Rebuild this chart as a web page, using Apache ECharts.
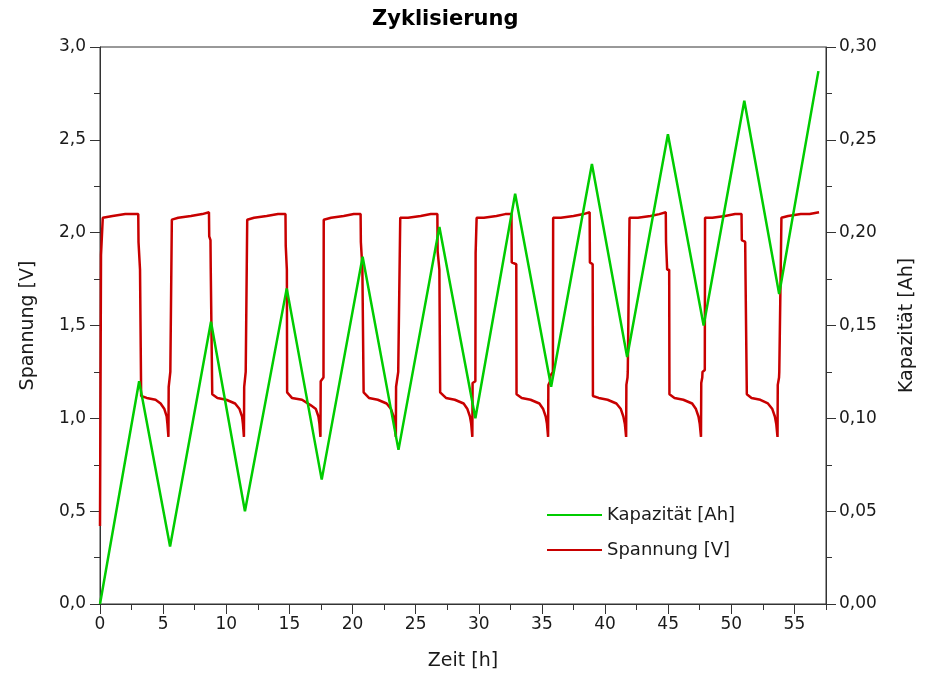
<!DOCTYPE html>
<html>
<head>
<meta charset="utf-8">
<script src="https://cdn.jsdelivr.net/npm/echarts@6/dist/echarts.min.js"></script>
<style>
  html, body { margin: 0; padding: 0; background: #fff; }
</style>
</head>
<body>
<div id="Zyklisierung" style="width: 925px;height:682px;"></div>
<script>
// Achsen-Ticks
var zeitTicks = [0, 5, 10, 15, 20, 25, 30, 35, 40, 45, 50, 55];
var zeitMinorTicks = [2.5, 7.5, 12.5, 17.5, 22.5, 27.5, 32.5, 37.5, 42.5, 47.5, 52.5, 57.5];
var spannungMinorTicks = [0.25, 0.75, 1.25, 1.75, 2.25, 2.75];
var kapazitaetMinorTicks = [0.025, 0.075, 0.125, 0.175, 0.225, 0.275];

// Spannung [V] ueber Zeit [h]
var spannungData = [
  [0, 0.42], [0.08, 1.88], [0.2, 1.89], [0.22, 2.08], [1.0, 2.09], [2.0, 2.10], [3.03, 2.10], [3.05, 1.95], [3.15, 1.94], [3.17, 1.80], [3.24, 1.80], [3.26, 1.12], [3.7, 1.11], [4.4, 1.10], [4.8, 1.08], [5.1, 1.05], [5.28, 1.01], [5.34, 0.97], [5.42, 0.90],
  [5.44, 1.17], [5.55, 1.18], [5.57, 1.25], [5.67, 1.26], [5.69, 2.07], [6.2, 2.08], [7.2, 2.09], [8.1, 2.10], [8.63, 2.11], [8.65, 1.98], [8.75, 1.96], [8.77, 1.81], [8.87, 1.80], [8.89, 1.13], [9.3, 1.11], [10.0, 1.10], [10.7, 1.08], [11.05, 1.05], [11.25, 1.01], [11.32, 0.97], [11.40, 0.90],
  [11.42, 1.17], [11.52, 1.18], [11.54, 1.25], [11.64, 1.26], [11.66, 2.07], [12.2, 2.08], [13.2, 2.09], [14.1, 2.10], [14.69, 2.10], [14.71, 1.93], [14.78, 1.92], [14.80, 1.80], [14.82, 1.14], [15.2, 1.11], [16.0, 1.10], [16.7, 1.07], [17.1, 1.05], [17.3, 1.01], [17.38, 0.97], [17.46, 0.90],
  [17.48, 1.20], [17.70, 1.22], [17.72, 2.07], [18.3, 2.08], [19.3, 2.09], [20.1, 2.10], [20.64, 2.10], [20.66, 1.95], [20.76, 1.94], [20.78, 1.81], [20.86, 1.80], [20.88, 1.14], [21.3, 1.11], [22.0, 1.10], [22.7, 1.08], [23.05, 1.05], [23.25, 1.01], [23.35, 0.97], [23.43, 0.90],
  [23.45, 1.17], [23.6, 1.18], [23.62, 1.25], [23.76, 1.26], [23.78, 2.08], [24.4, 2.08], [25.4, 2.09], [26.2, 2.10], [26.72, 2.10], [26.74, 1.90], [26.86, 1.89], [26.88, 1.80], [26.92, 1.80], [26.94, 1.14], [27.4, 1.11], [28.1, 1.10], [28.8, 1.08], [29.1, 1.05], [29.3, 1.01], [29.4, 0.97], [29.49, 0.90],
  [29.51, 1.19], [29.73, 1.20], [29.75, 1.89], [29.81, 1.90], [29.83, 2.08], [30.4, 2.08], [31.4, 2.09], [32.1, 2.10], [32.59, 2.10], [32.61, 1.84], [32.97, 1.83], [32.99, 1.13], [33.4, 1.11], [34.1, 1.10], [34.8, 1.08], [35.1, 1.05], [35.3, 1.01], [35.4, 0.97], [35.49, 0.90],
  [35.51, 1.18], [35.65, 1.20], [35.67, 1.23], [35.87, 1.25], [35.89, 2.08], [36.5, 2.08], [37.5, 2.09], [38.3, 2.10], [38.78, 2.11], [38.80, 1.84], [39.02, 1.83], [39.04, 1.12], [39.5, 1.11], [40.2, 1.10], [40.9, 1.08], [41.25, 1.05], [41.45, 1.01], [41.57, 0.97], [41.67, 0.90],
  [41.69, 1.18], [41.78, 1.22], [41.80, 1.25], [41.92, 1.26], [41.94, 2.08], [42.6, 2.08], [43.6, 2.09], [44.3, 2.10], [44.81, 2.11], [44.83, 1.95], [44.9, 1.94], [44.92, 1.80], [45.08, 1.80], [45.10, 1.13], [45.5, 1.11], [46.2, 1.10], [46.9, 1.08], [47.2, 1.05], [47.4, 1.01], [47.5, 0.97], [47.60, 0.90],
  [47.62, 1.19], [47.7, 1.22], [47.72, 1.25], [47.9, 1.26], [47.92, 2.08], [48.5, 2.08], [49.5, 2.09], [50.3, 2.10], [50.81, 2.10], [50.83, 1.96], [51.1, 1.95], [51.12, 1.80], [51.21, 1.79], [51.23, 1.13], [51.6, 1.11], [52.3, 1.10], [52.9, 1.08], [53.25, 1.05], [53.45, 1.01], [53.56, 0.97], [53.66, 0.90],
  [53.68, 1.18], [53.78, 1.22], [53.80, 1.25], [53.95, 1.26], [53.97, 2.08], [54.5, 2.09], [55.5, 2.10], [56.2, 2.10], [56.95, 2.11]
];

// Kapazitaet [Ah] ueber Zeit [h]
var kapazitaetData = [
  [0, 0.000], [3.10, 0.120], [5.55, 0.031], [8.79, 0.152], [11.48, 0.050],
  [14.79, 0.170], [17.56, 0.067], [20.80, 0.187], [23.64, 0.083], [26.88, 0.203],
  [29.73, 0.100], [32.88, 0.221], [35.73, 0.117], [38.96, 0.237], [41.75, 0.133],
  [44.98, 0.253], [47.81, 0.150], [51.03, 0.271], [53.79, 0.167], [56.90, 0.287]
];

var chart = echarts.init(document.getElementById("Zyklisierung"));
var fontColor = '#1a1a1a';
var lineColor = '#333';
var font = 'DejaVu Sans';

// kleine Zwischenticks als eigene Achse (onZero aus, sonst zeigen sie nach innen)
function minorAxis(pos, min, max, ticks) {
  return {
    type: 'value',
    position: pos,
    min: min,
    max: max,
    axisLine: { show: false, onZero: false },
    axisTick: { show: true, inside: false, length: 6, customValues: ticks, lineStyle: { color: lineColor } },
    axisLabel: { show: false },
    splitLine: { show: false }
  };
}

var option = {
  animation: false,
  backgroundColor: '#fff',
  title: {
    text: 'Zyklisierung',
    left: 372,
    top: 9,
    padding: 0,
    textStyle: { fontFamily: font, fontSize: 21, fontWeight: 'bold', color: '#000' }
  },
  legend: {
    orient: 'vertical',
    left: 547,
    top: 505,
    padding: 0,
    itemWidth: 55,
    itemHeight: 20,
    itemGap: 15,
    data: [
      { name: 'Kapazität [Ah]', icon: 'path://M0,9 L55,9 L55,11 L0,11 Z' },
      { name: 'Spannung [V]', icon: 'path://M0,9 L55,9 L55,11 L0,11 Z' }
    ],
    textStyle: { fontFamily: font, fontSize: 18, lineHeight: 20, color: fontColor }
  },
  grid: {
    left: 100,
    right: 96,
    top: 47,
    bottom: 78,
    show: true,
    borderColor: lineColor,
    borderWidth: 1,
    backgroundColor: 'transparent'
  },
  xAxis: [{
    type: 'value',
    min: 0,
    max: 57.5,
    interval: 5,
    name: 'Zeit [h]',
    nameLocation: 'middle',
    nameGap: 48,
    nameTextStyle: { fontFamily: font, fontSize: 19, color: fontColor },
    axisLine: { show: true, onZero: false, lineStyle: { color: lineColor, width: 1 } },
    axisTick: { show: true, inside: false, length: 10, customValues: zeitTicks, lineStyle: { color: lineColor } },
    axisLabel: { customValues: zeitTicks, margin: 12, fontFamily: font, fontSize: 17, color: fontColor },
    splitLine: { show: false }
  }, minorAxis('bottom', 0, 57.5, zeitMinorTicks)],
  yAxis: [{
    type: 'value',
    position: 'left',
    min: 0,
    max: 3,
    interval: 0.5,
    name: 'Spannung [V]',
    nameLocation: 'middle',
    nameRotate: 90,
    nameGap: 62,
    nameTextStyle: { fontFamily: font, fontSize: 19, color: fontColor },
    axisLine: { show: true, onZero: false, lineStyle: { color: lineColor, width: 1 } },
    axisTick: { show: true, inside: false, length: 10, lineStyle: { color: lineColor } },
    axisLabel: {
      margin: 14,
      fontFamily: font, fontSize: 17, color: fontColor,
      formatter: function (v) { return v.toFixed(1).replace('.', ','); }
    },
    splitLine: { show: false }
  }, {
    type: 'value',
    position: 'right',
    min: 0,
    max: 0.3,
    interval: 0.05,
    name: 'Kapazität [Ah]',
    nameLocation: 'middle',
    nameRotate: 90,
    nameGap: 72,
    nameTextStyle: { fontFamily: font, fontSize: 19, color: fontColor },
    axisLine: { show: true, onZero: false, lineStyle: { color: lineColor, width: 1 } },
    axisTick: { show: true, inside: false, length: 10, lineStyle: { color: lineColor } },
    axisLabel: {
      margin: 13,
      fontFamily: font, fontSize: 17, color: fontColor,
      formatter: function (v) { return v.toFixed(2).replace('.', ','); }
    },
    splitLine: { show: false }
  }, minorAxis('left', 0, 3, spannungMinorTicks),
     minorAxis('right', 0, 0.3, kapazitaetMinorTicks)],
  series: [{
    name: 'Spannung [V]',
    type: 'line',
    xAxisIndex: 0,
    yAxisIndex: 0,
    symbol: 'none',
    sampling: 'none',
    color: '#c80000',
    lineStyle: { color: '#c80000', width: 2.5 },
    z: 2,
    data: spannungData
  }, {
    name: 'Kapazität [Ah]',
    type: 'line',
    xAxisIndex: 0,
    yAxisIndex: 1,
    symbol: 'none',
    sampling: 'none',
    color: '#00cc00',
    lineStyle: { color: '#00cc00', width: 2.5 },
    z: 3,
    data: kapazitaetData
  }]
};

chart.setOption(option);
</script>
</body>
</html>
